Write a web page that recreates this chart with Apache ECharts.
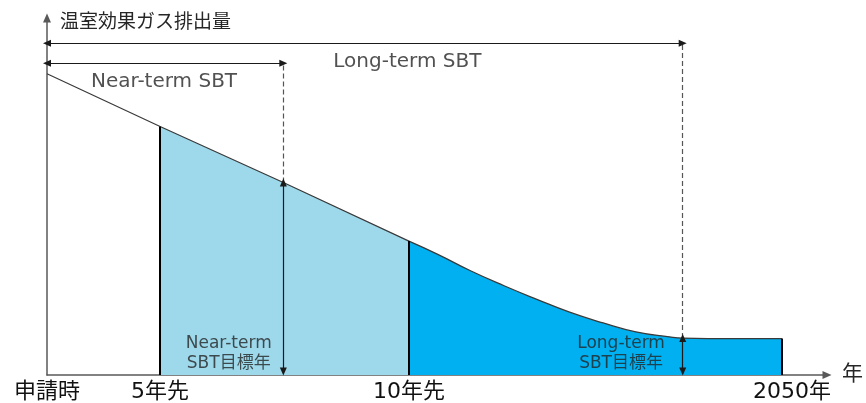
<!DOCTYPE html>
<html><head><meta charset="utf-8">
<script src="https://cdn.jsdelivr.net/npm/echarts@6/dist/echarts.min.js"></script>
<style>html,body{margin:0;padding:0;background:#fff}#c{width:866px;height:403px}</style>
</head><body><div id="c"></div>
<script>
// ---- data (schematic units) ----
const curveX = [0, 14.5, 30.3, 46.4, 50.1, 54.3, 58.6, 62.8, 67.0, 71.3, 75.5, 79.8, 81.5, 88.0, 94.2];
const curveY = [84.4, 69.6, 53.9, 37.5, 33.8, 29.2, 25.0, 21.2, 17.6, 14.6, 12.1, 10.7, 10.35, 10.2, 10.2];
const tickPositions = [0, 14.5, 46.4, 95.5];
const tickLabels = ['申請時', '5年先', '10年先', '2050年'];
const phaseBounds = [14.5, 46.4, 94.2];      // 5年先, 10年先, 2050年
const targetX = [30.3, 81.5];               // near-term / long-term target year
const spanArrowY = [87.3, 92.9];            // near-term / long-term span arrows
const yAxisName = '温室効果ガス排出量';
const xAxisName = '年';

const FONT = '"DejaVu Sans", "Noto Sans CJK JP", sans-serif';
const pts = curveX.map((x, i) => [x, curveY[i]]);
const yAt = x => curveY[curveX.indexOf(x)];
const near = pts.filter(p => p[0] >= phaseBounds[0] && p[0] <= phaseBounds[1]);
const long = pts.filter(p => p[0] >= phaseBounds[1]);
const head = pts.filter(p => p[0] <= phaseBounds[1]);

const chart = echarts.init(document.getElementById('c'), null, {renderer: 'canvas'});
chart.setOption({
  animation: false,
  grid: {left: 47, right: 34, top: 18, bottom: 27, containLabel: false},
  xAxis: {
    type: 'value', min: 0, max: 100,
    name: xAxisName, nameLocation: 'end', nameGap: 15,
    nameTextStyle: {fontFamily: FONT, fontSize: 21, color: '#262626', verticalAlign: 'middle', padding: [0, 0, 8, 0]},
    axisLine: {show: true, lineStyle: {color: '#595959', width: 1.5}, symbol: ['none', 'triangle'], symbolSize: [8, 9]},
    axisTick: {show: false},
    splitLine: {show: false},
    axisLabel: {
      customValues: tickPositions,
      formatter: v => tickLabels[tickPositions.indexOf(v)] || '',
      fontFamily: FONT, fontSize: 22, color: '#111', margin: 6
    }
  },
  yAxis: {
    type: 'value', min: 0, max: 100,
    name: yAxisName, nameLocation: 'end', nameGap: -5,
    nameTextStyle: {fontFamily: FONT, fontSize: 19, color: '#262626', align: 'left', verticalAlign: 'middle', padding: [0, 0, 0, 13]},
    axisLine: {show: true, lineStyle: {color: '#595959', width: 1.5}, symbol: ['none', 'triangle'], symbolSize: [8, 9]},
    axisTick: {show: false}, axisLabel: {show: false}, splitLine: {show: false}
  },
  series: [
    {type: 'line', data: near, symbol: 'none', lineStyle: {width: 0}, areaStyle: {color: '#9DD9EB', opacity: 1}, silent: true, z: 1},
    {type: 'line', data: long, symbol: 'none', smooth: 0.5,
     lineStyle: {color: '#3a3a3a', width: 1.3}, areaStyle: {color: '#00B0F0', opacity: 1}, silent: true, z: 2},
    {type: 'line', data: head, symbol: 'none', lineStyle: {color: '#3a3a3a', width: 1.2}, silent: true, z: 3},
    // black boundary lines
    {type: 'line', data: [], z: 4, markLine: {silent: true, symbol: ['none', 'none'], label: {show: false},
      lineStyle: {color: '#000', width: 2, type: 'solid'},
      data: phaseBounds.map(x => [{coord: [x, 0]}, {coord: [x, yAt(x)]}])}},
    // dashed guides
    {type: 'line', data: [], z: 4, markLine: {silent: true, symbol: ['none', 'none'], label: {show: false},
      lineStyle: {color: '#555', width: 1.2, type: [5, 3]},
      data: targetX.map((x, i) => [{coord: [x, yAt(x)]}, {coord: [x, spanArrowY[i]]}])}},
    // double arrows
    {type: 'line', data: [], z: 5, markLine: {silent: true, symbol: ['triangle', 'triangle'], symbolSize: [7, 8], label: {show: false},
      lineStyle: {color: '#1a1a1a', width: 1.2, type: 'solid'},
      data: [
        [{coord: [0, spanArrowY[1]]}, {coord: [targetX[1], spanArrowY[1]]}],
        [{coord: [0, spanArrowY[0]]}, {coord: [targetX[0], spanArrowY[0]]}],
        [{coord: [targetX[0], 1]}, {coord: [targetX[0], yAt(targetX[0])]}],
        [{coord: [targetX[1], 1]}, {coord: [targetX[1], yAt(targetX[1])]}]
      ]}},
    // text annotations
    {type: 'scatter', symbolSize: 1, itemStyle: {color: 'rgba(0,0,0,0)'}, silent: true, z: 6,
     label: {show: true, position: 'inside', formatter: p => p.value[2], fontFamily: FONT, color: '#262626'},
     data: [
       {value: [15.0, 82.1, 'Near-term SBT'], label: {fontSize: 20}},
       {value: [46.2, 87.7, 'Long-term SBT'], label: {fontSize: 20}},
       {value: [23.3, 6.0, 'Near-term\nSBT目標年'], label: {fontSize: 17, lineHeight: 20}},
       {value: [73.6, 5.9, 'Long-term\nSBT目標年'], label: {fontSize: 17, lineHeight: 20}}
     ]}
  ]
});
</script></body></html>
